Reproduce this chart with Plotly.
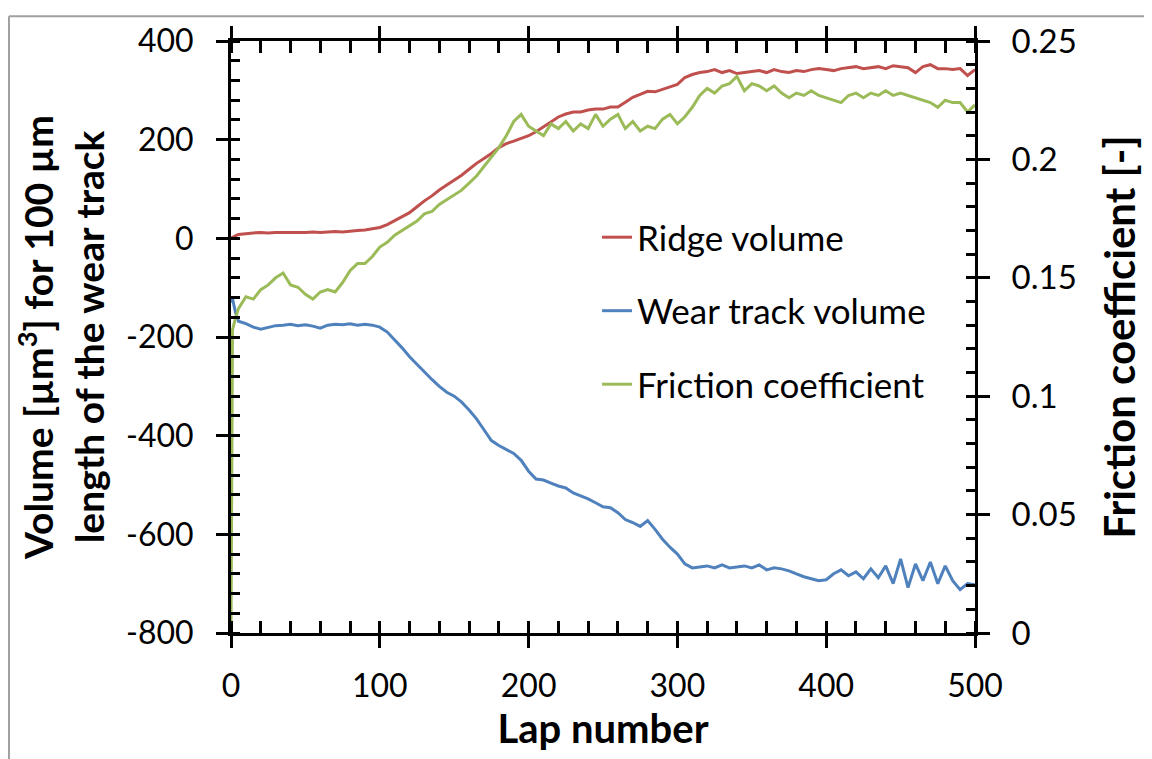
import plotly.graph_objects as go

laps = [0, 1, 3] + list(range(5, 501, 5))

ridge_volume = [0, 2, 5, 8, 10, 11, 12, 11, 12, 12, 11, 12, 12, 13, 12, 13, 14, 13, 15, 16, 17, 19,
                22, 28, 36, 44, 52, 64, 76, 86, 98, 108, 118, 128, 140, 152, 162, 172, 184, 192, 197, 202,
                208, 216, 226, 236, 246, 252, 256, 256, 260, 262, 262, 266, 266, 276, 286, 292, 298, 297, 302, 306,
                312, 326, 332, 336, 338, 342, 336, 340, 334, 336, 338, 340, 336, 342, 338, 336, 340, 338, 342, 344,
                342, 340, 344, 346, 348, 344, 346, 348, 344, 350, 348, 346, 336, 348, 352, 344, 344, 342, 344, 330,
                342]

wear_track_volume = [-130, -122, -150, -168, -173, -180, -184, -180, -177, -176, -174, -177, -175, -178, -182, -176,
                     -174, -175, -173, -176, -174, -176,
                     -180, -190, -205, -222, -240, -256, -270, -286, -300, -312, -320, -332, -348, -366, -388, -410,
                     -420, -428, -436, -450,
                     -472, -488, -490, -496, -502, -506, -516, -522, -528, -536, -544, -546, -556, -570, -576, -584,
                     -572, -590, -610, -626,
                     -640, -660, -668, -666, -664, -668, -662, -668, -666, -664, -668, -662, -672, -668, -670, -674,
                     -680, -686, -690, -694,
                     -692, -680, -672, -684, -676, -690, -670, -688, -664, -700, -650, -708, -660, -694, -656, -700,
                     -664, -694, -712, -700,
                     -702]

friction_coefficient = [0.0, 0.128, 0.133, 0.137, 0.142, 0.141, 0.145, 0.147, 0.150, 0.152, 0.147, 0.146, 0.143,
                        0.141, 0.144, 0.145, 0.144, 0.148, 0.153, 0.156, 0.156, 0.159,
                        0.163, 0.165, 0.168, 0.170, 0.172, 0.174, 0.177, 0.178, 0.181, 0.183, 0.185, 0.187, 0.190,
                        0.193, 0.197, 0.201, 0.205, 0.210, 0.216, 0.219,
                        0.214, 0.212, 0.210, 0.215, 0.213, 0.216, 0.212, 0.215, 0.213, 0.219, 0.214, 0.217, 0.219,
                        0.213, 0.216, 0.212, 0.214, 0.213, 0.217, 0.219,
                        0.215, 0.218, 0.222, 0.227, 0.230, 0.228, 0.231, 0.232, 0.235, 0.229, 0.232, 0.231, 0.229,
                        0.231, 0.228, 0.226, 0.228, 0.227, 0.229, 0.227,
                        0.226, 0.225, 0.224, 0.227, 0.228, 0.226, 0.228, 0.227, 0.229, 0.227, 0.228, 0.227, 0.226,
                        0.225, 0.224, 0.222, 0.225, 0.224, 0.224, 0.220,
                        0.223]

series_names = ["Ridge volume", "Wear track volume", "Friction coefficient"]
colors = ["#C0504D", "#4F81BD", "#9BBB59"]

y_tick_values = [-800, -600, -400, -200, 0, 200, 400]
y_tick_labels = ["-800", "-600", "-400", "-200", "0", "200", "400"]
y2_tick_values = [0, 0.05, 0.1, 0.15, 0.2, 0.25]
y2_tick_labels = ["0", "0.05", "0.1", "0.15", "0.2", "0.25"]
x_tick_values = [0, 100, 200, 300, 400, 500]
x_tick_labels = ["0", "100", "200", "300", "400", "500"]

FONT = "Lato"
fig = go.Figure()
fig.add_trace(go.Scatter(x=laps, y=ridge_volume, name=series_names[0], mode="lines",
                         line=dict(color=colors[0], width=3), legendgroup="a"))
fig.add_trace(go.Scatter(x=laps, y=wear_track_volume, name=series_names[1], mode="lines",
                         line=dict(color=colors[1], width=3), legendgroup="b"))
fig.add_trace(go.Scatter(x=laps, y=friction_coefficient, name=series_names[2], mode="lines",
                         line=dict(color=colors[2], width=3), legendgroup="c", yaxis="y2"))

tickfont = dict(family=FONT, size=32, color="black")
titlefont = dict(family=FONT, size=38, color="black", weight="bold")

common = dict(showline=True, linecolor="black", linewidth=3, tickcolor="black", tickwidth=3,
              showgrid=False, zeroline=False)

fig.update_layout(
    width=1152, height=759,
    margin=dict(l=223, r=185, t=26, b=134),
    paper_bgcolor="white", plot_bgcolor="white",
    font=dict(family=FONT, color="black"),
    xaxis=dict(range=[0, 500], tickmode="array", tickvals=x_tick_values, ticktext=x_tick_labels,
               ticks="outside", ticklen=12,
               minor=dict(tickmode="linear", tick0=0, dtick=20, ticks="inside", ticklen=9, tickwidth=3,
                          tickcolor="black"),
               mirror="allticks", tickfont=tickfont, ticklabelstandoff=11,
               title=dict(text="Lap number", font=dict(family=FONT, size=40, color="black", weight="bold"),
                          standoff=4), **common),
    xaxis3=dict(range=[0, 500], tickmode="array", tickvals=x_tick_values, ticks="inside", ticklen=12,
                overlaying="x", showticklabels=False, mirror="allticks", anchor="y", **common),
    yaxis=dict(range=[-800, 400], tickmode="array", tickvals=y_tick_values, ticktext=y_tick_labels,
               ticks="outside", ticklen=12,
               minor=dict(tickmode="linear", tick0=-800, dtick=40, ticks="inside", ticklen=9, tickwidth=3,
                          tickcolor="black"),
               tickfont=tickfont, ticklabelstandoff=16,
               title=dict(text="Volume [µm<sup>3</sup>] for 100 µm<br>length of the wear track",
                          font=dict(family=FONT, size=39, color="black", weight="bold"), standoff=10), **common),
    yaxis3=dict(range=[-800, 400], tickmode="array", tickvals=y_tick_values, ticks="inside", ticklen=12,
                overlaying="y", showticklabels=False, side="left", anchor="x", **common),
    yaxis2=dict(range=[0, 0.25], tickmode="array", tickvals=y2_tick_values, ticktext=y2_tick_labels,
                ticks="outside", ticklen=12, overlaying="y", side="right", anchor="x",
                minor=dict(tickmode="linear", tick0=0, dtick=0.01, ticks="inside", ticklen=9, tickwidth=3,
                           tickcolor="black"),
                tickfont=dict(family=FONT, size=33, color="black"), ticklabelstandoff=15,
                title=dict(text="Friction coefficient [-]",
                           font=dict(family=FONT, size=42, color="black", weight="bold"), standoff=30), **common),
    yaxis4=dict(range=[0, 0.25], tickmode="array", tickvals=y2_tick_values, ticks="inside", ticklen=12,
                overlaying="y", showticklabels=False, side="right", anchor="x", **common),
    legend=dict(x=0.492, y=0.718, xanchor="left", yanchor="top", bgcolor="rgba(0,0,0,0)",
                font=dict(family=FONT, size=35, color="black"), tracegroupgap=25),
    showlegend=True,
)

fig.add_shape(type="line", xref="paper", yref="paper", x0=-0.2984, x1=1.25, y0=1.0417, y1=1.0417,
              line=dict(color="#A0A0A0", width=2))
fig.add_shape(type="line", xref="paper", yref="paper", x0=-0.2984, x1=-0.2984, y0=-0.22, y1=1.0417,
              line=dict(color="#A0A0A0", width=2))

fig.write_html("out.html")
